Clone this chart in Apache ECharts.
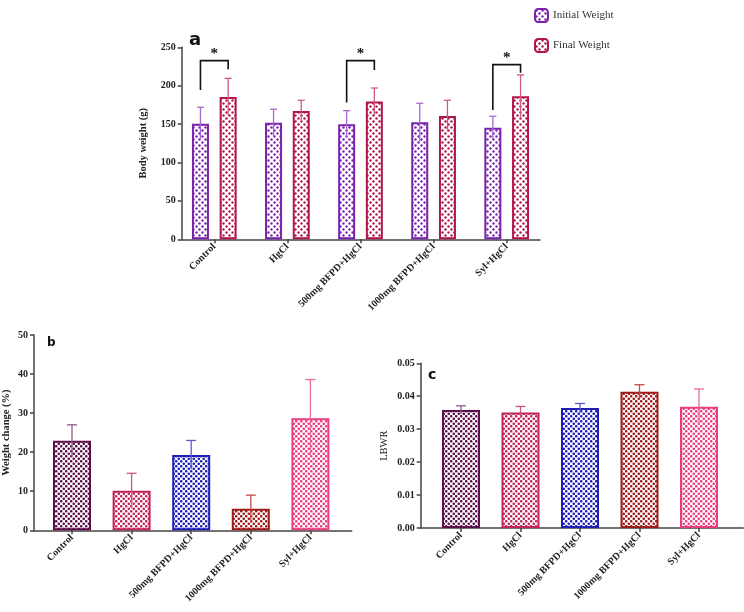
<!DOCTYPE html>
<html><head><meta charset="utf-8">
<script src="https://cdn.jsdelivr.net/npm/echarts@6/dist/echarts.min.js"></script>
<style>html,body{margin:0;padding:0;background:#fff}#c{width:744px;height:612px}</style>
</head><body><div id="c"></div>
<script>
// ---------- data ----------
const categories = ['Control', 'HgCl', '500mg BFPD+HgCl', '1000mg BFPD+HgCl', 'Syl+HgCl'];
const initialWeight = [150.6, 151.9, 149.7, 152.3, 145.4];
const initialWeightSD = [21.3, 17.4, 17.8, 24.8, 14.8];
const finalWeight = [185.3, 167.1, 179.3, 160.6, 186.2];
const finalWeightSD = [24.3, 13.9, 17.7, 20.4, 27.8];
// significance brackets: [group index, left foot, top, right foot]
const brackets = [[0, 194.4, 232.6, 221.4], [2, 178.0, 232.6, 220.5], [4, 168.4, 227.4, 217.0]];
const weightChange = [22.9, 10.1, 19.3, 5.5, 28.7];
const weightChangeSD = [4.1, 4.5, 3.7, 3.5, 9.9];
const lbwr = [0.0358, 0.0351, 0.0364, 0.0414, 0.0368];
const lbwrSD = [0.0013, 0.0018, 0.0014, 0.0021, 0.0054];
const ticksA = [0, 50, 100, 150, 200, 250];
const ticksB = [0, 10, 20, 30, 40, 50];
const ticksC = [0, 0.01, 0.02, 0.03, 0.04, 0.05];

// ---------- style ----------
const colInitial = '#7a22ae', colFinal = '#b0164c';
const errInitial = '#a968d6', errFinal = '#d25a82';
const colsBC = ['#5c0f4a', '#c0245a', '#1f1fb5', '#9e1b1b', '#ea3c7e'];
const errsBC = ['#8e5c86', '#d0567e', '#5a5ad0', '#c44a4a', '#ee6a9a'];
const serif = 'Liberation Serif';

function pattern(color, tile, r) {
  const c = document.createElement('canvas');
  c.width = tile; c.height = tile;
  const ctx = c.getContext('2d');
  ctx.fillStyle = '#fff'; ctx.fillRect(0, 0, tile, tile);
  ctx.fillStyle = color;
  [[tile / 4, tile / 4], [3 * tile / 4, 3 * tile / 4]].forEach(p => {
    ctx.beginPath(); ctx.arc(p[0], p[1], r, 0, Math.PI * 2); ctx.fill();
  });
  return { image: c, repeat: 'repeat' };
}

const tickLabel = { fontFamily: serif, fontWeight: 'bold', fontSize: 10, color: '#222' };
const axisLine = { show: true, lineStyle: { color: '#444', width: 1.5 } };

function outerX(gi) {
  return { gridIndex: gi, type: 'value', min: 0, max: 1, axisLine: axisLine, axisTick: { show: false },
    axisLabel: { show: false }, splitLine: { show: false } };
}
function innerX(gi) {
  return { gridIndex: gi, type: 'category', data: categories, axisLine: { show: false },
    axisTick: { show: true, alignWithLabel: true, length: 4, lineStyle: { color: '#444', width: 1.5 } },
    axisLabel: Object.assign({ rotate: 45, margin: 6, interval: 0 }, tickLabel) };
}
function outerY(gi, ticks, name, gap, fmt, bold) {
  return { gridIndex: gi, type: 'value', min: ticks[0], max: ticks[ticks.length - 1],
    interval: ticks[1] - ticks[0], axisLine: axisLine,
    axisTick: { show: true, length: 4, lineStyle: { color: '#444', width: 1.5 } },
    axisLabel: Object.assign({ margin: 6, formatter: fmt }, tickLabel), splitLine: { show: false },
    name: name, nameLocation: 'middle', nameGap: gap,
    nameTextStyle: { fontFamily: serif, fontWeight: bold ? 'bold' : 'normal', fontSize: 10.5, color: '#222' } };
}
function innerY(gi, ticks) {
  return { gridIndex: gi, type: 'value', min: ticks[0], max: ticks[ticks.length - 1], show: false };
}

function errSeries(xi, yi, means, sds, colorFn, offset, capW) {
  return {
    type: 'custom', xAxisIndex: xi, yAxisIndex: yi, z: 5, silent: true,
    data: means.map((m, i) => [i, m, sds[i]]),
    renderItem: function (params, api) {
      const i = api.value(0), m = api.value(1), s = api.value(2);
      const top = api.coord([i, m + s]), bot = api.coord([i, m - s]);
      const x = top[0] + offset;
      const st = { stroke: colorFn(i), lineWidth: 1.3 };
      return { type: 'group', children: [
        { type: 'line', shape: { x1: x, y1: bot[1], x2: x, y2: top[1] }, style: st },
        { type: 'line', shape: { x1: x - capW / 2, y1: top[1], x2: x + capW / 2, y2: top[1] }, style: st }
      ] };
    }
  };
}

const off = (17 + 10.7) / 2;

const option = {
  animation: false,
  backgroundColor: '#fff',
  legend: {
    data: ['Initial Weight', 'Final Weight'], orient: 'vertical', left: 529, top: 3,
    itemWidth: 13, itemHeight: 13, itemGap: 15,
    textStyle: { fontFamily: serif, fontSize: 11, color: '#333' }
  },
  grid: [
    { left: 181.7, top: 47.3, width: 358.3, height: 192 },
    { left: 177.75, top: 47.3, width: 365.5, height: 192 },
    { left: 31.7, top: 335, width: 320, height: 195.3 },
    { left: 42.2, top: 335, width: 298, height: 195.3 },
    { left: 420.7, top: 363.3, width: 322.6, height: 164.7 },
    { left: 431.25, top: 363.3, width: 297.5, height: 164.7 }
  ],
  xAxis: [outerX(0), innerX(1), outerX(2), innerX(3), outerX(4), innerX(5)],
  yAxis: [
    outerY(0, ticksA, 'Body weight (g)', 33, v => v, true), innerY(1, ticksA),
    outerY(2, ticksB, 'Weight change (%)', 22, v => v, true), innerY(3, ticksB),
    outerY(4, ticksC, 'LBWR', 31, v => v.toFixed(2), false), innerY(5, ticksC)
  ],
  graphic: [
    { type: 'text', left: 189, top: 31, style: { text: 'a', font: 'bold 18px "DejaVu Sans"', fill: '#111' } },
    { type: 'text', left: 47, top: 337, style: { text: 'b', font: 'bold 12px "DejaVu Sans"', fill: '#111' } },
    { type: 'text', left: 428, top: 368, style: { text: 'c', font: 'bold 14px "DejaVu Sans"', fill: '#111' } }
  ],
  series: [
    { name: 'Initial Weight', type: 'bar', xAxisIndex: 1, yAxisIndex: 1, barWidth: 17, barGap: '63%',
      data: initialWeight,
      itemStyle: { color: pattern(colInitial, 6, 1.2), borderColor: colInitial, borderWidth: 2 } },
    { name: 'Final Weight', type: 'bar', xAxisIndex: 1, yAxisIndex: 1, barWidth: 17, barGap: '63%',
      data: finalWeight,
      itemStyle: { color: pattern(colFinal, 6, 1.2), borderColor: colFinal, borderWidth: 2 } },
    errSeries(1, 1, initialWeight, initialWeightSD, () => errInitial, -off, 7),
    errSeries(1, 1, finalWeight, finalWeightSD, () => errFinal, off, 7),
    {
      type: 'custom', xAxisIndex: 1, yAxisIndex: 1, z: 6, silent: true, data: brackets,
      renderItem: function (params, api) {
        const g = api.value(0);
        const lb = api.coord([g, api.value(1)]), tp = api.coord([g, api.value(2)]), rb = api.coord([g, api.value(3)]);
        const xl = tp[0] - off, xr = tp[0] + off;
        return { type: 'group', children: [
          { type: 'polyline', shape: { points: [[xl, lb[1]], [xl, tp[1]], [xr, tp[1]], [xr, rb[1]]] },
            style: { stroke: '#111', lineWidth: 1.6, fill: null } },
          { type: 'text', x: tp[0], y: tp[1] - 7, style: { text: '*', font: 'bold 15px "Liberation Serif"',
            fill: '#111', textAlign: 'center', textVerticalAlign: 'middle' } }
        ] };
      }
    },
    { type: 'bar', xAxisIndex: 3, yAxisIndex: 3, barWidth: 38,
      data: weightChange.map((v, i) => ({ value: v,
        itemStyle: { color: pattern(colsBC[i], 5, 1.3), borderColor: colsBC[i], borderWidth: 2 } })) },
    errSeries(3, 3, weightChange, weightChangeSD, i => errsBC[i], 0, 10),
    { type: 'bar', xAxisIndex: 5, yAxisIndex: 5, barWidth: 38,
      data: lbwr.map((v, i) => ({ value: v,
        itemStyle: { color: pattern(colsBC[i], 5, 1.3), borderColor: colsBC[i], borderWidth: 2 } })) },
    errSeries(5, 5, lbwr, lbwrSD, i => errsBC[i], 0, 10)
  ]
};
const chart = echarts.init(document.getElementById('c'), null, { renderer: 'canvas' });
chart.setOption(option);
</script></body></html>
